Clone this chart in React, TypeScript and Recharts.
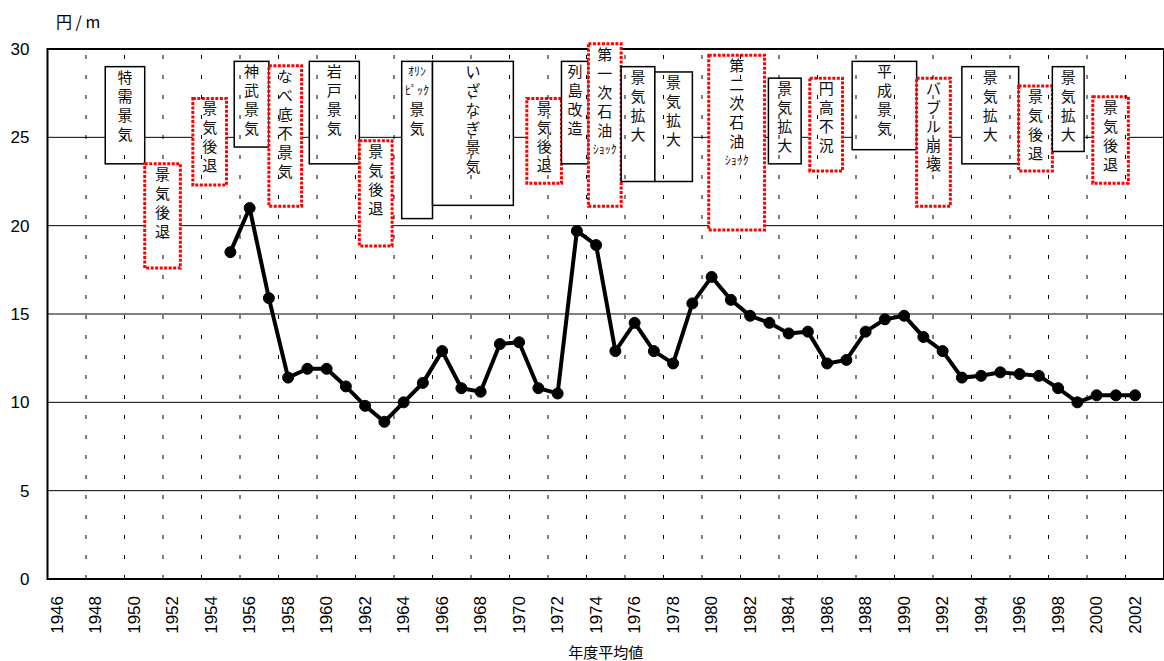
import {
  LineChart, Line, XAxis, YAxis, CartesianGrid, ReferenceArea, ReferenceLine,
} from 'recharts';

const FONT_NUM = '"Liberation Sans", Arial, sans-serif';
const FONT_JP = '"Noto Sans CJK JP", "Noto Sans", sans-serif';

// 年度 / 円/m
const years = [
  1955, 1956, 1957, 1958, 1959, 1960, 1961, 1962, 1963, 1964,
  1965, 1966, 1967, 1968, 1969, 1970, 1971, 1972, 1973, 1974,
  1975, 1976, 1977, 1978, 1979, 1980, 1981, 1982, 1983, 1984,
  1985, 1986, 1987, 1988, 1989, 1990, 1991, 1992, 1993, 1994,
  1995, 1996, 1997, 1998, 1999, 2000, 2001, 2002,
];
const unitPrice = [
  18.5, 21.0, 15.9, 11.4, 11.9, 11.9, 10.9, 9.8, 8.9, 10.0,
  11.1, 12.9, 10.8, 10.6, 13.3, 13.4, 10.8, 10.5, 19.7, 18.9,
  12.9, 14.5, 12.9, 12.2, 15.6, 17.1, 15.8, 14.9, 14.5, 13.9,
  14.0, 12.2, 12.4, 14.0, 14.7, 14.9, 13.7, 12.9, 11.4, 11.5,
  11.7, 11.6, 11.5, 10.8, 10.0, 10.4, 10.4, 10.4,
];

const yearTicks = [
  1946, 1948, 1950, 1952, 1954, 1956, 1958, 1960, 1962, 1964,
  1966, 1968, 1970, 1972, 1974, 1976, 1978, 1980, 1982, 1984,
  1986, 1988, 1990, 1992, 1994, 1996, 1998, 2000, 2002,
];
const valueTicks = [0, 5, 10, 15, 20, 25, 30];

// 景気の局面 (x in years, y in 円/m); dotted = 後退局面
const phases = [
  { rows: ['特', '需', '景', '気'], x1: 1948.5, x2: 1950.55, y1: 23.5, y2: 29.0, dotted: false },
  { rows: ['景', '気', '後', '退'], x1: 1950.55, x2: 1952.4, y1: 17.6, y2: 23.5, dotted: true },
  { rows: ['景', '気', '後', '退'], x1: 1953.05, x2: 1954.8, y1: 22.3, y2: 27.2, dotted: true },
  { rows: ['神', '武', '景', '気'], x1: 1955.2, x2: 1957.0, y1: 24.45, y2: 29.3, dotted: false },
  { rows: ['な', 'べ', '底', '不', '景', '気'], x1: 1957.0, x2: 1958.7, y1: 21.1, y2: 29.05, dotted: true },
  { rows: ['岩', '戸', '景', '気'], x1: 1959.1, x2: 1961.7, y1: 23.5, y2: 29.3, dotted: false },
  { rows: ['景', '気', '後', '退'], x1: 1961.7, x2: 1963.4, y1: 18.85, y2: 24.8, dotted: true },
  { rows: ['ｵﾘﾝ', 'ﾋﾟｯｸ', '景', '気'], x1: 1963.9, x2: 1965.5, y1: 20.4, y2: 29.3, dotted: false },
  { rows: ['い', 'ざ', 'な', 'ぎ', '景', '気'], x1: 1965.5, x2: 1969.7, y1: 21.15, y2: 29.3, dotted: false },
  { rows: ['景', '気', '後', '退'], x1: 1970.4, x2: 1972.2, y1: 22.4, y2: 27.2, dotted: true },
  { rows: ['列', '島', '改', '造'], x1: 1972.2, x2: 1973.6, y1: 23.5, y2: 29.3, dotted: false },
  { rows: ['第', '一', '次', '石', '油', 'ｼｮｯｸ'], x1: 1973.6, x2: 1975.3, y1: 21.1, y2: 30.3, dotted: true },
  { rows: ['景', '気', '拡', '大'], x1: 1975.3, x2: 1977.05, y1: 22.5, y2: 29.0, dotted: false },
  { rows: ['景', '気', '拡', '大'], x1: 1977.05, x2: 1979.0, y1: 22.5, y2: 28.7, dotted: false },
  { rows: ['第', '二', '次', '石', '油', 'ｼｮｯｸ'], x1: 1979.85, x2: 1982.75, y1: 19.75, y2: 29.65, dotted: true },
  { rows: ['景', '気', '拡', '大'], x1: 1982.95, x2: 1984.65, y1: 23.5, y2: 28.35, dotted: false },
  { rows: ['円', '高', '不', '況'], x1: 1985.1, x2: 1986.8, y1: 23.1, y2: 28.35, dotted: true },
  { rows: ['平', '成', '景', '気'], x1: 1987.3, x2: 1990.65, y1: 24.3, y2: 29.3, dotted: false },
  { rows: ['バ', 'ブ', 'ル', '崩', '壊'], x1: 1990.65, x2: 1992.4, y1: 21.1, y2: 28.35, dotted: true },
  { rows: ['景', '気', '拡', '大'], x1: 1993.0, x2: 1995.95, y1: 23.5, y2: 29.0, dotted: false },
  { rows: ['景', '気', '後', '退'], x1: 1995.95, x2: 1997.7, y1: 23.1, y2: 27.9, dotted: true },
  { rows: ['景', '気', '拡', '大'], x1: 1997.7, x2: 1999.35, y1: 24.2, y2: 29.0, dotted: false },
  { rows: ['景', '気', '後', '退'], x1: 1999.8, x2: 2001.65, y1: 22.4, y2: 27.3, dotted: true },
];

const data = years.map((year, i) => ({ year, value: unitPrice[i] }));
// dashed verticals sit between the 2-year label slots
const gridYears = yearTicks.slice(1).map((y) => y - 0.5);

type Phase = (typeof phases)[number];

function phaseShape(p: Phase) {
  return (props: any) => {
    const { x, y, width, height } = props;
    const cx = x + width / 2;
    // one <text> per box, one tspan per stacked row (vertical writing)
    const spans = p.rows.map((row, i) => {
      const fs = row.length > 1 ? 12 : 15; // half-width katakana rows
      const cy = y + 10 + i * 19;
      return (
        <tspan key={i} x={cx} y={cy + fs * 0.4} fontSize={fs}>
          {row}
        </tspan>
      );
    });
    return (
      <g>
        <rect x={x} y={y} width={width} height={height} fill="#fff"
          stroke={p.dotted ? '#ff0000' : '#000'}
          strokeWidth={p.dotted ? 3 : 1.5}
          strokeDasharray={p.dotted ? '3 1.5' : undefined} />
        <text textAnchor="middle" fontFamily={FONT_JP} fill="#111">
          {spans}
        </text>
      </g>
    );
  };
}

function YearTick(props: any) {
  const { x, y, payload } = props;
  return (
    <text x={x} y={y} transform={`rotate(-90 ${x} ${y})`} textAnchor="end"
      dominantBaseline="central" fontSize={17} fontFamily={FONT_NUM} fill="#000">
      {payload.value}
    </text>
  );
}

export default function App() {
  return (
    <div style={{ position: 'absolute', left: 0, top: 0, width: 1164, height: 661, background: '#fff' }}>
      <div style={{ position: 'absolute', left: 56, top: 9, fontSize: 16, fontFamily: FONT_JP, color: '#000', whiteSpace: 'pre' }}>
        円 / m
      </div>
      <LineChart width={1164} height={661} data={data}
        margin={{ top: 49, right: 0, left: 0, bottom: 0 }}>
        <CartesianGrid vertical={false} stroke="#000" strokeWidth={1} />
        <XAxis
          dataKey="year"
          type="number"
          domain={[1945.5, 2003.5]}
          ticks={yearTicks}
          interval={0}
          height={82}
          tickLine={false}
          axisLine={false}
          tickMargin={11}
          tick={<YearTick />}
          label={{ value: '年度平均値', position: 'insideBottom', offset: 3, fontSize: 15, fill: '#000', fontFamily: FONT_JP }}
        />
        <YAxis
          domain={[0, 30]}
          ticks={valueTicks}
          width={47.5}
          tickLine={false}
          axisLine={false}
          tickMargin={12}
          tick={{ fontSize: 17, fill: '#000', fontFamily: FONT_NUM }}
        />
        {gridYears.map((gx) => (
          <ReferenceLine key={gx} x={gx} stroke="#000" strokeWidth={1} strokeDasharray="4 16" />
        ))}
        <ReferenceArea x1={1945.5} x2={2003.5} y1={0} y2={30} fill="none" stroke="#000" strokeWidth={2} ifOverflow="visible" />
        {phases.map((p, i) => (
          <ReferenceArea key={i} x1={p.x1} x2={p.x2} y1={p.y1} y2={p.y2}
            ifOverflow="visible" shape={phaseShape(p)} />
        ))}
        <Line
          dataKey="value"
          stroke="#000"
          strokeWidth={4}
          dot={{ r: 5.5, fill: '#000', stroke: '#000', strokeWidth: 1 }}
          isAnimationActive={false}
        />
      </LineChart>
    </div>
  );
}
